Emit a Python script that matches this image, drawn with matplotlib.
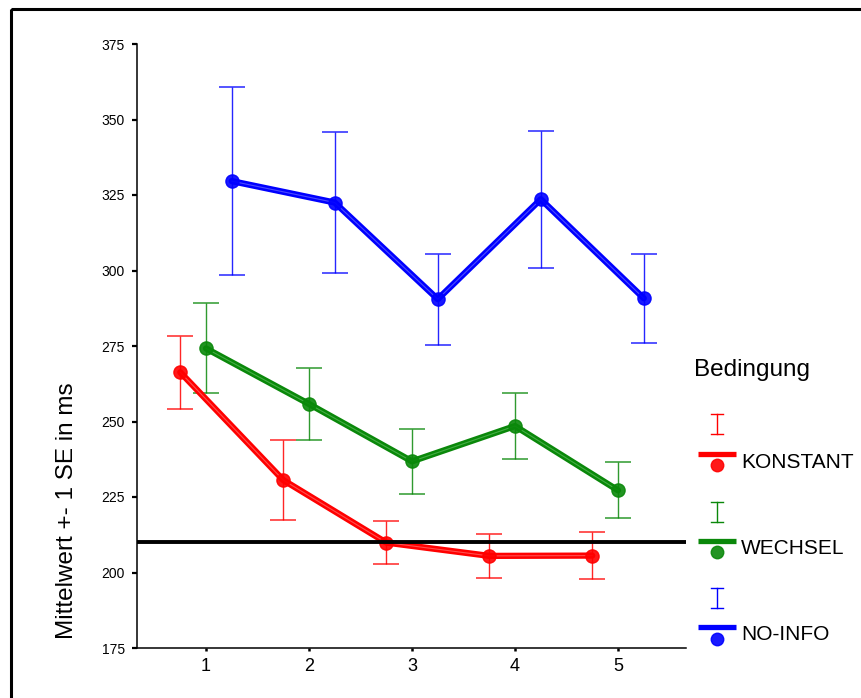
import numpy as np
import matplotlib
matplotlib.use("Agg")
import matplotlib.pyplot as plt
from matplotlib.patches import Rectangle

plt.rcParams['font.family'] = ['Liberation Sans', 'DejaVu Sans']

# Mean reaction time (+- 1 SE) per block and condition
blocks = [1, 2, 3, 4, 5]
konstant_mean = [266.3, 230.6, 209.9, 205.5, 205.6]
konstant_se = [12.0, 13.3, 7.0, 7.2, 7.8]
wechsel_mean = [274.2, 255.8, 236.8, 248.5, 227.2]
wechsel_se = [14.9, 11.8, 10.8, 10.8, 9.3]
noinfo_mean = [329.6, 322.5, 290.5, 323.6, 290.8]
noinfo_se = [31.0, 23.2, 15.1, 22.7, 14.8]
reference_value = 210

labels = ["KONSTANT", "WECHSEL", "NO-INFO"]
colors = ["#ff0000", "#0a880a", "#0000ff"]
highlights = ["#ff7070", "#5cbf5c", "#6b6bff"]
offsets = [-0.25, 0.0, 0.25]
means = [konstant_mean, wechsel_mean, noinfo_mean]
ses = [konstant_se, wechsel_se, noinfo_se]

W, H = 862, 698
fig = plt.figure(figsize=(W / 100, H / 100), dpi=100)
ax = fig.add_axes([137 / W, (H - 648) / H, (686 - 137) / W, (648 - 44) / H])

x = np.array(blocks, dtype=float)
for mean, se, col, hl, off, z in zip(means, ses, colors, highlights, offsets, [4, 3, 2]):
    xs = x + off
    ax.errorbar(xs, mean, yerr=se, fmt='none', ecolor=col, elinewidth=1.0,
                capsize=9.7, capthick=1.1, alpha=0.85, zorder=z)
    ax.plot(xs, mean, '-', color=col, lw=4.5, solid_capstyle='round', zorder=z + 0.1)
    ax.plot(xs, mean, '-', color=hl, lw=0.8, alpha=0.7, zorder=z + 0.2)
    ax.plot(xs, mean, 'o', color=col, ms=9.5, mec=col, alpha=0.9, zorder=z + 0.3)

ax.axhline(reference_value, color='black', lw=2.8, zorder=10)

ax.set_xlim(0.33, 5.66)
ax.set_ylim(175, 375)
ax.set_xticks(blocks)
ax.set_yticks(np.arange(175, 376, 25))
ax.spines['top'].set_visible(False)
ax.spines['right'].set_visible(False)
ax.spines['left'].set_linewidth(1.1)
ax.spines['bottom'].set_linewidth(1.1)
ax.tick_params(axis='y', direction='out', length=3.8, width=1.6, labelsize=10, pad=5)
ax.tick_params(axis='x', direction='out', length=2.5, width=1.8, labelsize=13, pad=5)

ax.set_ylabel("Mittelwert +- 1 SE in ms", fontsize=17.5, va='center')
ax.yaxis.set_label_coords(-0.127, 0.227)

# overlay in pixel coordinates for the frame and the legend
ov = fig.add_axes([0, 0, 1, 1], zorder=-1)
ov.set_xlim(0, W)
ov.set_ylim(H, 0)
ov.axis('off')
ov.add_patch(Rectangle((11, 9), 900, 800, fill=False, ec='black', lw=2.2))

ov.text(694, 370, "Bedingung", fontsize=17.5, va='center', ha='left')
legend_rows = [(414, 434, 454, 465, 463), (502, 522, 541, 552, 549), (588, 608, 627, 639, 635)]
for (i_top, i_bot, line_y, mark_y, lab_y), col, lab in zip(legend_rows, colors, labels):
    ov.plot([716.7, 716.7], [i_top, i_bot], color=col, lw=1.0)
    ov.plot([710.7, 722.7], [i_top, i_top], color=col, lw=1.0)
    ov.plot([710.7, 722.7], [i_bot, i_bot], color=col, lw=1.0)
    ov.plot([698, 736], [line_y, line_y], color=col, lw=3.8, solid_capstyle='butt')
    ov.plot([716.7], [mark_y], 'o', color=col, ms=9, alpha=0.9)
    ov.text(741, lab_y, lab, fontsize=15, va='center', ha='left')

fig.savefig("out.png", dpi=100)
